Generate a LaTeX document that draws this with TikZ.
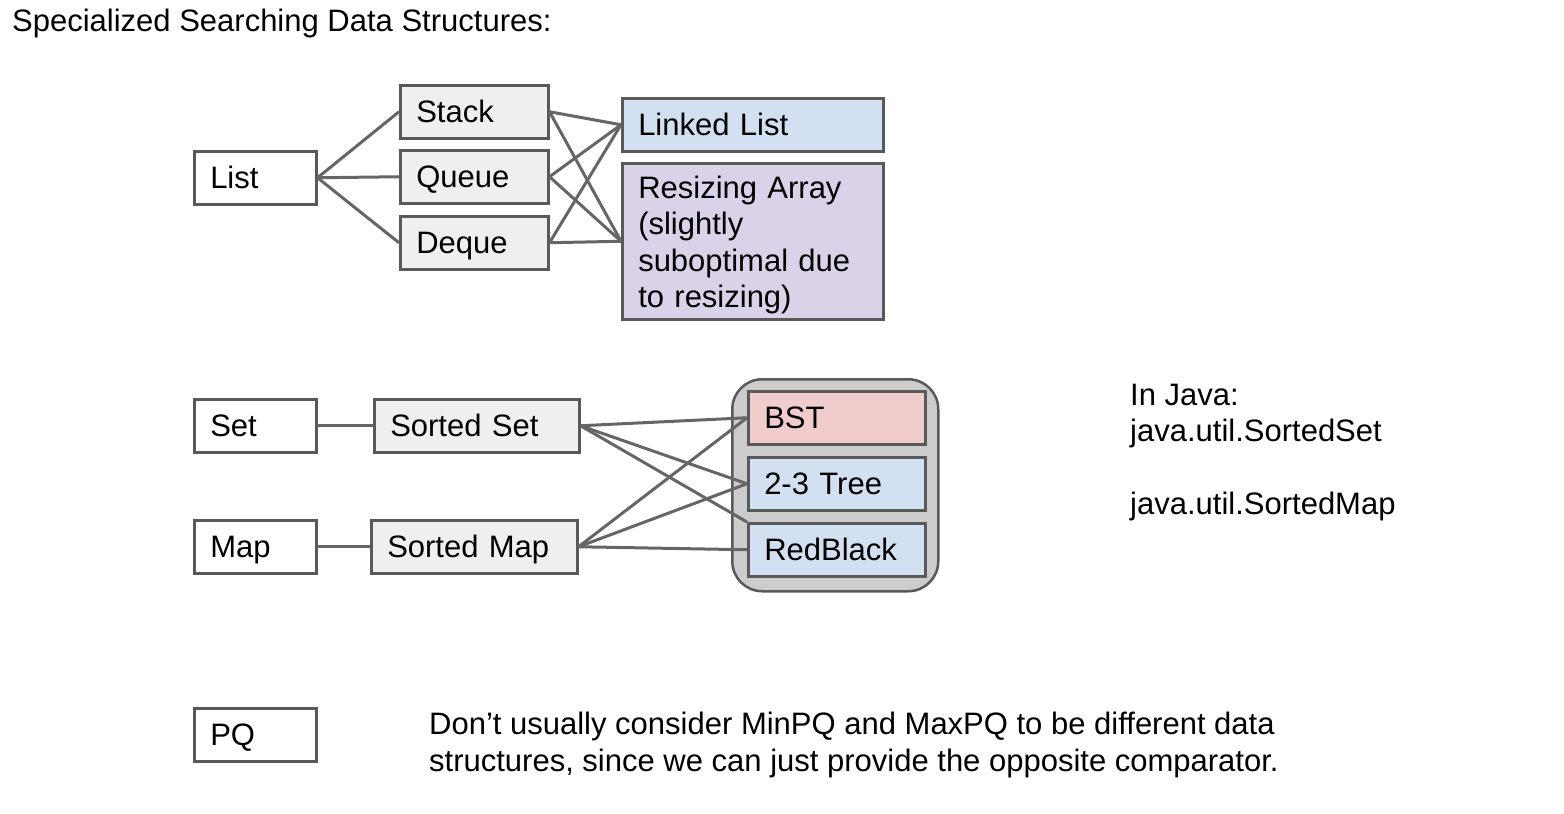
\documentclass[tikz,border=0pt]{standalone}
\usepackage{fontspec}
\setmainfont{Liberation Sans}
\usepackage{tikz}
\usetikzlibrary{positioning}

\definecolor{edgegray}{HTML}{595959}
\definecolor{linkgray}{HTML}{666666}
\definecolor{boxgray}{HTML}{EFEFEF}
\definecolor{lightblue}{HTML}{D3E0F1}
\definecolor{lavender}{HTML}{D9D2E9}
\definecolor{lightred}{HTML}{F0CCCC}
\definecolor{groupgray}{HTML}{CCCCCC}

\begin{document}
\begin{tikzpicture}[x=1pt,y=-1pt,
    every node/.style={font=\fontsize{31}{36.5}\selectfont},
    box/.style={draw=edgegray, line width=2.5pt, anchor=north west, minimum height=53pt,
        inner xsep=16pt, inner ysep=0pt, text height=22pt, text depth=0pt, align=left},
    link/.style={draw=linkgray, line width=3pt},
    plain/.style={inner sep=0pt, anchor=base west, align=left}]
    \useasboundingbox (0,0) rectangle (1564,814);

    \node[plain] (title) at (12,31) {Specialized Searching Data Structures:};

    % list family
    \node[box, fill=white, text width=90pt] (list) at (193,150) {List};
    \node[box, fill=boxgray, text width=116pt] (stack) at (399,84) {Stack};
    \node[box, fill=boxgray, text width=116pt] (queue) at (399,149) {Queue};
    \node[box, fill=boxgray, text width=116pt] (deque) at (399,215) {Deque};
    \node[box, fill=lightblue, text width=229pt] (linked) at (621,97) {Linked List};
    \node[box, fill=lavender, text width=229pt, minimum height=156pt, text depth=108pt] (resizing) at (621,162)
        {Resizing Array\\(slightly\\suboptimal due\\to resizing)};

    \draw[link] (list.east) -- (stack.west);
    \draw[link] (list.east) -- (queue.west);
    \draw[link] (list.east) -- (deque.west);
    \foreach \s in {stack,queue,deque} {
        \draw[link] (\s.east) -- (linked.west);
        \draw[link] (\s.east) -- (resizing.west);
    }

    % sorted set and map
    \node[box, fill=white, text width=90pt] (set) at (193,398) {Set};
    \node[box, fill=boxgray, text width=173pt] (sortedset) at (373,398) {Sorted Set};
    \node[box, fill=white, text width=90pt] (map) at (193,519) {Map};
    \node[box, fill=boxgray, text width=174pt] (sortedmap) at (370,519) {Sorted Map};

    \node[draw=edgegray, line width=2.5pt, fill=groupgray, rounded corners=30pt, anchor=north west,
        minimum width=206pt, minimum height=212pt, inner sep=0pt] (trees) at (731,378) {};
    \node[box, fill=lightred, text width=145pt] (bst) at (747,390) {BST};
    \node[box, fill=lightblue, text width=145pt] (twothree) at (747,456) {2-3 Tree};
    \node[box, fill=lightblue, text width=145pt] (redblack) at (747,522) {RedBlack};

    \draw[link] (set.east) -- (sortedset.west);
    \draw[link] (map.east) -- (sortedmap.west);
    \draw[link] (sortedset.east) -- (bst.west);
    \draw[link] (sortedset.east) -- (twothree.west);
    \draw[link] (sortedset.east) -- (redblack.north west);
    \draw[link] (sortedmap.east) -- (bst.west);
    \draw[link] (sortedmap.east) -- (twothree.west);
    \draw[link] (sortedmap.east) -- (redblack.west);

    \node[plain] (java) at (1130,514) {In Java:\\java.util.SortedSet\\[36pt]java.util.SortedMap};

    % priority queue
    \node[box, fill=white, text width=90pt] (pq) at (193,707) {PQ};
    \node[plain] (pqnote) at (429,771) {Don’t usually consider MinPQ and MaxPQ to be different data\\structures, since we can just provide the opposite comparator.};
\end{tikzpicture}
\end{document}
